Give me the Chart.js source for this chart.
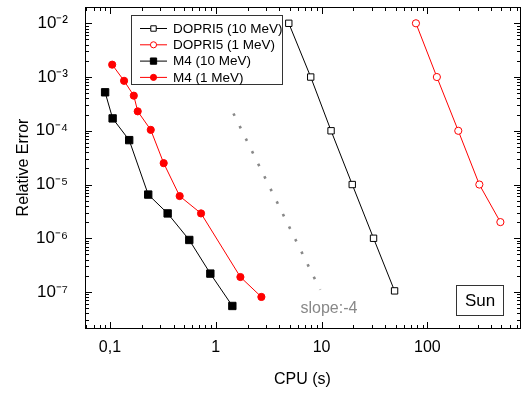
<!DOCTYPE html>
<html lang="en">
<head>
<meta charset="UTF-8">
<title>Relative Error vs CPU</title>
<script src="https://cdn.jsdelivr.net/npm/chart.js"></script>
<style>
  html, body { margin: 0; padding: 0; background: #fff; }
  #wrap { width: 532px; height: 394px; }
</style>
</head>
<body>
<div id="wrap"><canvas id="chart" width="532" height="394"></canvas></div>
<script>
// values (CPU time in s, relative error)
const dopri10Cpu = [4.9, 7.9, 12.3, 19.5, 31, 49];
const dopri10Err = [1e-2, 1e-3, 1e-4, 1e-5, 1e-6, 1.05e-7];
const dopri1Cpu = [78, 123, 196, 310, 490];
const dopri1Err = [1e-2, 1e-3, 1e-4, 1e-5, 2e-6];
const m4hiCpu = [0.09, 0.106, 0.152, 0.23, 0.351, 0.562, 0.889, 1.435];
const m4hiErr = [5.2e-4, 1.7e-4, 6.7e-5, 6.5e-6, 2.9e-6, 9.3e-7, 2.2e-7, 5.5e-8];
const m4loCpu = [0.105, 0.136, 0.168, 0.183, 0.243, 0.322, 0.456, 0.726, 1.71, 2.7];
const m4loErr = [1.7e-3, 8.5e-4, 4.5e-4, 2.3e-4, 1.04e-4, 2.5e-5, 6.1e-6, 2.9e-6, 1.9e-7, 8.1e-8];
// slope -4 guide line
const slopeCpu = [1.47, 9.7];
const slopeErr = [2.1e-4, 1.1e-7];

const xTicks = [0.1, 1, 10, 100];
const xTickLabels = ['0,1', '1', '10', '100'];
const yTicks = [1e-7, 1e-6, 1e-5, 1e-4, 1e-3, 1e-2];
const yTickLabels = ['10⁻⁷', '10⁻⁶', '10⁻⁵', '10⁻⁴', '10⁻³', '10⁻²'];

const X_MIN = 0.0581, X_MAX = 751;
const Y_MIN = 2.14e-8, Y_MAX = 0.0201;
const FONT = '"Liberation Sans", Arial, Helvetica, sans-serif';

function pts(xs, ys) {
    return xs.map((x, i) => ({ x: x, y: ys[i] }));
}

// inward minor/major ticks, legend and notes
const decorPlugin = {
    id: 'decor',
    afterDraw(chart) {
        const ctx = chart.ctx;
        const a = chart.chartArea;
        const xs = chart.scales.x;
        const ys = chart.scales.y;
        const L = Math.round(a.left), R = Math.round(a.right);
        const T = Math.round(a.top), B = Math.round(a.bottom);
        ctx.save();
        ctx.setLineDash([]);
        ctx.fillStyle = '#000';
        for (let d = -3; d <= 3; d++) {
            for (let m = 1; m <= 9; m++) {
                const v = m * Math.pow(10, d);
                const len = m === 1 ? 6 : 3;
                if (v > xs.min && v < xs.max) {
                    const px = Math.round(xs.getPixelForValue(v));
                    ctx.fillRect(px, B - len, 1, len);
                    ctx.fillRect(px, T + 1, 1, len);
                }
            }
        }
        for (let d = -9; d <= -1; d++) {
            for (let m = 1; m <= 9; m++) {
                const v = m * Math.pow(10, d);
                const len = m === 1 ? 6 : 3;
                if (v > ys.min && v < ys.max) {
                    const py = Math.round(ys.getPixelForValue(v));
                    ctx.fillRect(L + 1, py, len, 1);
                    ctx.fillRect(R - len, py, len, 1);
                }
            }
        }

        // legend
        const sets = chart.data.datasets.slice(0, 4);
        ctx.fillStyle = '#fff';
        ctx.fillRect(131.5, 15.5, 151, 69);
        ctx.strokeStyle = '#333';
        ctx.lineWidth = 1;
        ctx.strokeRect(131.5, 15.5, 151, 69);
        ctx.font = '13.5px ' + FONT;
        ctx.textBaseline = 'middle';
        ctx.textAlign = 'left';
        sets.forEach((ds, i) => {
            const cy = 28.5 + i * 16.3;
            ctx.strokeStyle = ds.borderColor;
            ctx.lineWidth = 1;
            ctx.beginPath();
            ctx.moveTo(140, cy); ctx.lineTo(167, cy);
            ctx.stroke();
            ctx.fillStyle = ds.pointBackgroundColor;
            ctx.strokeStyle = ds.borderColor;
            Chart.helpers.drawPoint(ctx, {
                pointStyle: ds.pointStyle,
                radius: ds.pointRadius * 0.85,
                borderWidth: 1,
                rotation: 0
            }, 153.5, cy);
            ctx.fillStyle = '#000';
            ctx.fillText(ds.label, 173, cy + 0.5);
        });
        // slope note
        ctx.fillStyle = '#888';
        ctx.font = '16px ' + FONT;
        ctx.fillText('slope:-4', 300.5, 308.5);
        // Sun box
        ctx.strokeStyle = '#333';
        ctx.lineWidth = 1;
        ctx.strokeRect(456.5, 285.5, 47, 30);
        ctx.fillStyle = '#000';
        ctx.font = '17px ' + FONT;
        ctx.textAlign = 'center';
        ctx.fillText('Sun', 480, 301);
        ctx.restore();
    }
};

// bare axis used only for the top/right frame line
function frameAxis(position, horizontal) {
    return {
        type: 'logarithmic',
        position: position,
        min: horizontal ? X_MIN : Y_MIN,
        max: horizontal ? X_MAX : Y_MAX,
        grid: { display: false, drawTicks: false },
        border: { display: true, color: '#000', width: 1 },
        ticks: { display: false },
        afterFit: s => {
            if (horizontal) { s.height = 0; } else { s.width = 0; }
            s.paddingLeft = 0; s.paddingRight = 0; s.paddingTop = 0; s.paddingBottom = 0;
        }
    };
}

new Chart(document.getElementById('chart'), {
    type: 'line',
    data: {
        datasets: [
            {
                label: 'DOPRI5 (10 MeV)', data: pts(dopri10Cpu, dopri10Err),
                borderColor: '#000', backgroundColor: '#fff', pointBackgroundColor: '#fff',
                pointStyle: 'rect', pointRadius: 4.5, borderWidth: 1, pointBorderWidth: 1
            },
            {
                label: 'DOPRI5 (1 MeV)', data: pts(dopri1Cpu, dopri1Err),
                borderColor: '#ff0000', backgroundColor: '#fff', pointBackgroundColor: '#fff',
                pointStyle: 'circle', pointRadius: 3.6, borderWidth: 1, pointBorderWidth: 1
            },
            {
                label: 'M4 (10 MeV)', data: pts(m4hiCpu, m4hiErr),
                borderColor: '#000', backgroundColor: '#000', pointBackgroundColor: '#000',
                pointStyle: 'rect', pointRadius: 5.2, borderWidth: 1, pointBorderWidth: 1
            },
            {
                label: 'M4 (1 MeV)', data: pts(m4loCpu, m4loErr),
                borderColor: '#ff0000', backgroundColor: '#ff0000', pointBackgroundColor: '#ff0000',
                pointStyle: 'circle', pointRadius: 3.6, borderWidth: 1, pointBorderWidth: 1
            },
            {
                label: 'slope -4', data: pts(slopeCpu, slopeErr),
                borderColor: '#888', borderWidth: 2.6, borderDash: [2.6, 11.4],
                pointRadius: 0
            }
        ]
    },
    options: {
        responsive: false,
        animation: false,
        events: [],
        layout: { padding: { top: 7, right: 12, left: 0, bottom: 0 } },
        plugins: { legend: { display: false } },
        scales: {
            x: {
                type: 'logarithmic',
                min: X_MIN,
                max: X_MAX,
                afterBuildTicks: s => { s.ticks = xTicks.map(v => ({ value: v })); },
                afterFit: s => { s.height = 66; s.paddingLeft = 0; s.paddingRight = 0; },
                grid: { display: false, drawTicks: false },
                border: { display: true, color: '#000', width: 1 },
                ticks: {
                    autoSkip: false, maxRotation: 0, padding: 10, color: '#000',
                    font: { family: FONT, size: 16 },
                    callback: (v, i) => xTickLabels[i]
                },
                title: {
                    display: true, text: 'CPU (s)', color: '#000',
                    font: { family: FONT, size: 16 }, padding: { top: 0, bottom: 5 }
                }
            },
            y: {
                type: 'logarithmic',
                min: Y_MIN,
                max: Y_MAX,
                afterBuildTicks: s => { s.ticks = yTicks.map(v => ({ value: v })); },
                afterFit: s => { s.width = 85; s.paddingTop = 0; s.paddingBottom = 0; },
                grid: { display: false, drawTicks: false },
                border: { display: true, color: '#000', width: 1 },
                ticks: {
                    autoSkip: false, padding: 17, color: '#000',
                    font: { family: FONT, size: 17 },
                    callback: (v, i) => yTickLabels[i]
                },
                title: {
                    display: true, text: 'Relative Error', color: '#000',
                    font: { family: FONT, size: 16 }, padding: { top: 14, bottom: 0 }
                }
            },
            x2: frameAxis('top', true),
            y2: frameAxis('right', false)
        }
    },
    plugins: [decorPlugin]
});
</script>
</body>
</html>
